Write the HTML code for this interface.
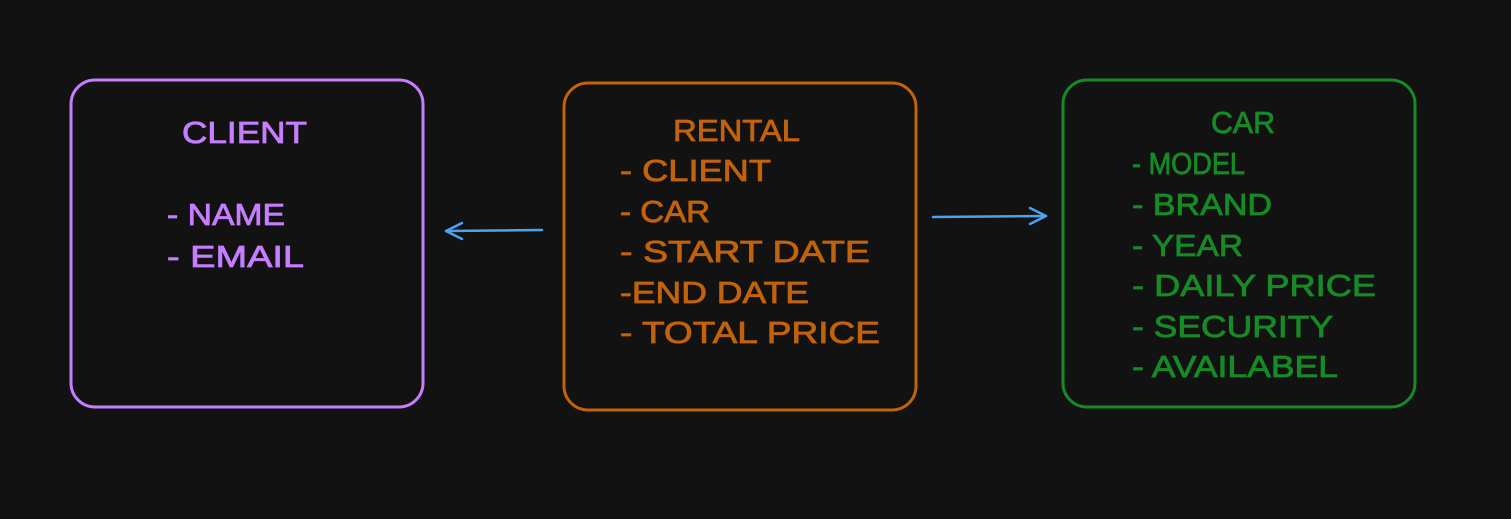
<!DOCTYPE html>
<html><head><style>
html,body{margin:0;padding:0;background:#121212;}
svg{display:block}
text{font-family:"Liberation Sans",sans-serif;font-size:31px;}
</style></head><body>
<svg width="1511" height="519" viewBox="0 0 1511 519" xmlns="http://www.w3.org/2000/svg">
<rect width="1511" height="519" fill="#121212"/>
<rect x="71" y="80" width="352" height="327" rx="24" fill="none" stroke="#c77dff" stroke-width="3"/>
<rect x="564" y="83" width="352" height="327" rx="24" fill="none" stroke="#c2620b" stroke-width="3"/>
<rect x="1063" y="80" width="352" height="327" rx="24" fill="none" stroke="#168a25" stroke-width="3"/>
<g fill="none" stroke="#4aa3f0" stroke-width="2.5" stroke-linecap="round" stroke-linejoin="round">
<path d="M542 230 L446 231"/><path d="M462 223 L446 231 L462 239"/>
<path d="M933 217 L1046 216"/><path d="M1030 208 L1046 216 L1030 224"/>
</g>
<g fill="#c77dff" stroke="#c77dff" stroke-width="0.8">
<text x="182" y="143" textLength="125" lengthAdjust="spacingAndGlyphs">CLIENT</text>
<text x="167" y="225" textLength="118" lengthAdjust="spacingAndGlyphs">- NAME</text>
<text x="167" y="267" textLength="137" lengthAdjust="spacingAndGlyphs">- EMAIL</text>
</g>
<g fill="#c2620b" stroke="#c2620b" stroke-width="0.8">
<text x="673" y="141" textLength="127" lengthAdjust="spacingAndGlyphs">RENTAL</text>
<text x="620" y="181" textLength="151" lengthAdjust="spacingAndGlyphs">- CLIENT</text>
<text x="620" y="222" textLength="90" lengthAdjust="spacingAndGlyphs">- CAR</text>
<text x="620" y="262" textLength="250" lengthAdjust="spacingAndGlyphs">- START DATE</text>
<text x="620" y="303" textLength="189" lengthAdjust="spacingAndGlyphs">-END DATE</text>
<text x="620" y="343" textLength="260" lengthAdjust="spacingAndGlyphs">- TOTAL PRICE</text>
</g>
<g fill="#168a25" stroke="#168a25" stroke-width="0.8">
<text x="1211" y="133" textLength="64" lengthAdjust="spacingAndGlyphs">CAR</text>
<text x="1132" y="174" textLength="113" lengthAdjust="spacingAndGlyphs">- MODEL</text>
<text x="1132" y="215" textLength="140" lengthAdjust="spacingAndGlyphs">- BRAND</text>
<text x="1132" y="256" textLength="111" lengthAdjust="spacingAndGlyphs">- YEAR</text>
<text x="1132" y="296" textLength="244" lengthAdjust="spacingAndGlyphs">- DAILY PRICE</text>
<text x="1132" y="337" textLength="201" lengthAdjust="spacingAndGlyphs">- SECURITY</text>
<text x="1132" y="377" textLength="206" lengthAdjust="spacingAndGlyphs">- AVAILABEL</text>
</g>
</svg>
</body></html>
